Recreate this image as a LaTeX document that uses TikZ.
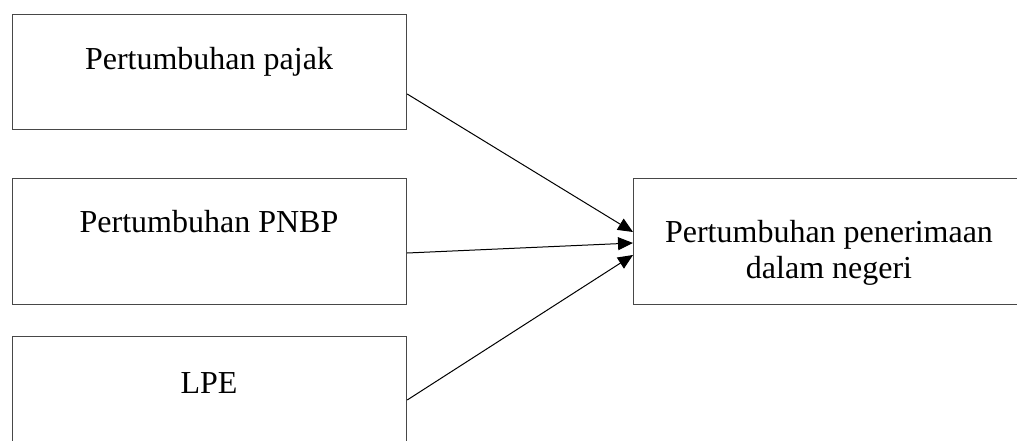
\documentclass[tikz,border=0pt]{standalone}
\usepackage{fontspec}
\setmainfont{Liberation Serif}
\usetikzlibrary{arrows.meta,calc}
\begin{document}
\begin{tikzpicture}[x=1pt,y=-1pt,
  box/.style={draw=black!72,line width=1.2pt,rectangle,inner sep=0pt,anchor=north west},
  lbl/.style={font=\fontsize{32}{36}\selectfont,anchor=base,inner sep=0pt,align=center},
  conn/.style={draw=black,line width=1pt,-{Triangle[length=15pt,width=13pt]}}]
\clip (0,0) rectangle (1017,441);
\fill[white] (0,0) rectangle (1017,441);
\node[box,minimum width=394pt,minimum height=115pt] (b1) at (12,14) {};
\node[box,minimum width=394pt,minimum height=126pt] (b2) at (12,178) {};
\node[box,minimum width=394pt,minimum height=130pt] (b3) at (12,336) {};
\node[box,minimum width=394pt,minimum height=126pt] (r) at (633,178) {};
\node[lbl] (t1) at (209,70) {Pertumbuhan pajak};
\node[lbl] (t2) at (209,232) {Pertumbuhan PNBP};
\node[lbl] (t3) at (209,393) {LPE};
\node[lbl] (t4) at (829,242) {Pertumbuhan penerimaan};
\node[lbl] (t5) at (829,278) {dalam negeri};
\coordinate (s1) at (b1.east |- 0,94);
\coordinate (s2) at (b2.east |- 0,253);
\coordinate (s3) at (b3.east |- 0,400);
\coordinate (e1) at (r.west |- 0,232);
\coordinate (e2) at (r.west |- 0,243);
\coordinate (e3) at (r.west |- 0,255);
\draw[conn] (s1) -- (e1);
\draw[conn] (s2) -- (e2);
\draw[conn] (s3) -- (e3);
\end{tikzpicture}
\end{document}
